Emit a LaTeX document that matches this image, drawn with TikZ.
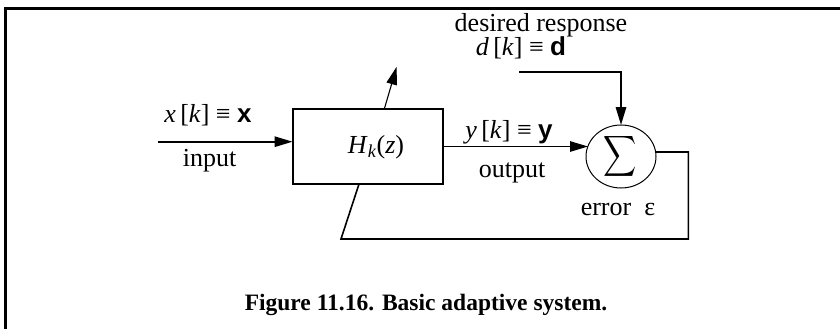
\documentclass[tikz,border=0pt]{standalone}
\usepackage{fontspec}
\setmainfont{Liberation Serif}
\setsansfont{Liberation Sans}
\usetikzlibrary{arrows.meta,shapes.geometric}
\begin{document}
\begin{tikzpicture}[x=1pt,y=-1pt,
  lbl/.style={anchor=base,font=\fontsize{26}{30}\selectfont,inner sep=0},
  captxt/.style={anchor=base,font=\fontsize{23.5}{28}\selectfont\bfseries,inner sep=0},
  conn/.style={line width=1.6pt},
  thinconn/.style={line width=1.1pt},
  tipk/.style={-{Triangle[length=18pt,width=10.5pt]}},
  arr/.style={conn,tipk},
  blk/.style={draw,line width=2pt,rectangle,minimum width=150pt,minimum height=75pt,inner sep=0,outer sep=0},
  sumnode/.style={draw,line width=1pt,ellipse,minimum width=70pt,minimum height=63pt,inner sep=0,outer sep=0}]
\useasboundingbox (0,0) rectangle (840,329);
% frame (top and left edges only)
\draw[line width=3pt] (5.3,329) -- (5.3,9) -- (840,9);
% blocks
\node[blk] (H) at (367.5,146.5) {};
\node[lbl] (Hlab) at (376,153) {\textit{H}\textsubscript{\textit{k}}(\textit{z})};
\node[sumnode] (S) at (621,156.5) {};
\node[inner sep=0] (sig) at (620,156) {\scalebox{2.3}[2.85]{$\displaystyle\sum$}};
% coordinates
\coordinate (in) at (158.3,141.7);
\coordinate (sin) at (588,146.5);
\coordinate (dstart) at (519,72);
\coordinate (sout) at (655.6,152);
\coordinate (c1) at (688.3,152);
\coordinate (c2) at (688.3,239);
\coordinate (c3) at (341,239);
\coordinate (hb) at (359,184);
\coordinate (ht) at (384.3,109);
\coordinate (tip) at (396.7,66.7);
% connectors
\draw[arr] (in) -- (in -| H.west);
\draw[thinconn,tipk] (H.east |- sin) -- (sin);
\draw[arr] (dstart) -- (S.north |- dstart) -- (S.north);
\draw[conn] (sout) -- (c1) -- (c2) -- (c3) -- (hb);
\draw[thinconn,tipk] (ht) -- (tip);
% labels
\node[lbl] (xl) at (208,122) {\textit{x}\,[\textit{k}] ≡ {\sffamily\bfseries x}};
\node[lbl] (il) at (209.5,166.7) {input};
\node[lbl] (yl) at (509,138) {\textit{y}\,[\textit{k}] ≡ {\sffamily\bfseries y}};
\node[lbl] (ol) at (512,177) {output};
\node[lbl] (dr) at (541,32) {desired response};
\node[lbl] (dl) at (521,56) {\textit{d}\,[\textit{k}] ≡ {\sffamily\bfseries d}};
\node[lbl] (el) at (618,215) {error\ \ ε};
\node[captxt] (caption) at (426,310) {Figure 11.16. Basic adaptive system.};
\end{tikzpicture}
\end{document}
